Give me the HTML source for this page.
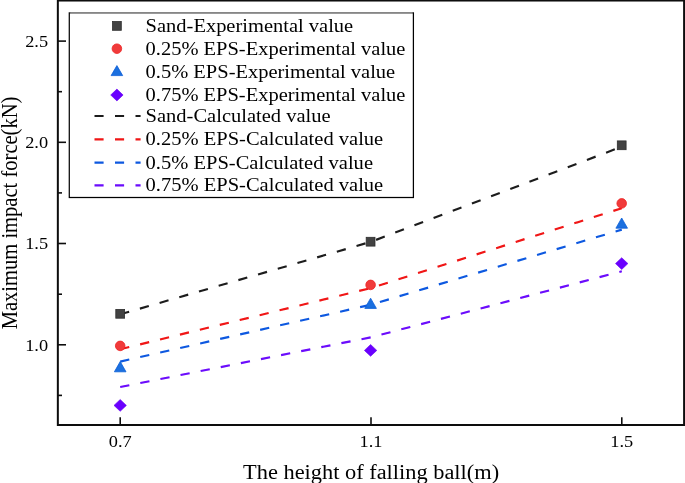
<!DOCTYPE html>
<html>
<head>
<meta charset="utf-8">
<title>Maximum impact force vs height of falling ball</title>
<style>
  html, body { margin: 0; padding: 0; background: #ffffff; }
  body { width: 685px; height: 483px; overflow: hidden; font-family: "Liberation Serif", serif; }
  svg { display: block; font-family: "Liberation Serif", serif; }
  .ax { stroke: #0c0c0c; stroke-width: 2; fill: none; }
  .tk { stroke: #101010; stroke-width: 1.6; }
  .lbl { fill: #000000; }
  .dash { fill: none; stroke-width: 2.15; stroke-dasharray: 9.3 11.2; }
</style>
</head>
<body>
<svg width="685" height="483" viewBox="0 0 685 483">
  <defs><filter id="soft" x="0" y="0" width="685" height="483" filterUnits="userSpaceOnUse"><feGaussianBlur stdDeviation="0.4"/></filter></defs>
  <rect x="0" y="0" width="685" height="483" fill="#ffffff"/>
  <g filter="url(#soft)">

  <!-- plot frame -->
  <rect class="ax" x="57.85" y="0.5" width="626.25" height="424.5"/>

  <!-- y ticks major -->
  <g class="tk">
    <line x1="57.85" x2="66.0" y1="41.1" y2="41.1"/>
    <line x1="57.85" x2="66.0" y1="142.3" y2="142.3"/>
    <line x1="57.85" x2="66.0" y1="243.5" y2="243.5"/>
    <line x1="57.85" x2="66.0" y1="344.8" y2="344.8"/>
    <!-- minor -->
    <line x1="57.85" x2="62.0" y1="91.7" y2="91.7"/>
    <line x1="57.85" x2="62.0" y1="192.9" y2="192.9"/>
    <line x1="57.85" x2="62.0" y1="294.2" y2="294.2"/>
    <line x1="57.85" x2="62.0" y1="395.4" y2="395.4"/>
    <!-- x ticks -->
    <line x1="120.2" x2="120.2" y1="425" y2="417.3"/>
    <line x1="371" x2="371" y1="425" y2="417.3"/>
    <line x1="621.8" x2="621.8" y1="425" y2="417.3"/>
  </g>

  <!-- y tick labels -->
  <g class="lbl" font-size="17.3" text-anchor="end">
    <text x="48.1" y="47.1" textLength="22.9" lengthAdjust="spacingAndGlyphs">2.5</text>
    <text x="48.1" y="148.2" textLength="22.9" lengthAdjust="spacingAndGlyphs">2.0</text>
    <text x="48.1" y="249.4" textLength="22.9" lengthAdjust="spacingAndGlyphs">1.5</text>
    <text x="48.1" y="350.7" textLength="22.9" lengthAdjust="spacingAndGlyphs">1.0</text>
  </g>
  <!-- x tick labels -->
  <g class="lbl" font-size="17.3" text-anchor="middle">
    <text x="120.2" y="447.2" textLength="22.9" lengthAdjust="spacingAndGlyphs">0.7</text>
    <text x="371" y="447.2" textLength="22.9" lengthAdjust="spacingAndGlyphs">1.1</text>
    <text x="621.8" y="447.2" textLength="22.9" lengthAdjust="spacingAndGlyphs">1.5</text>
  </g>

  <!-- axis titles -->
  <text class="lbl" x="371.1" y="478.8" font-size="21.3" text-anchor="middle" textLength="256" lengthAdjust="spacingAndGlyphs">The height of falling ball(m)</text>
  <text class="lbl" transform="translate(16.6,212.95) rotate(-90)" font-size="22.6" text-anchor="middle" textLength="232.7" lengthAdjust="spacingAndGlyphs">Maximum impact force(kN)</text>

  <!-- calculated dashed lines -->
  <polyline class="dash" stroke="#1e1e1e" points="120.2,314.3 371,241.8 621.8,146.7"/>
  <polyline class="dash" stroke="#f01414" points="120.2,349.2 371,288 621.8,208.2"/>
  <polyline class="dash" stroke="#0c58e0" points="120.2,361.6 371,304.7 621.8,229.6"/>
  <polyline class="dash" stroke="#6a08fc" points="120.2,387 371,337.3 621.8,271.3"/>

  <!-- experimental markers -->
  <g fill="#424242" stroke="#2e2e2e" stroke-width="0.8">
    <rect x="115.8" y="309.4" width="8.8" height="8.8"/>
    <rect x="366.2" y="237.3" width="8.8" height="8.8"/>
    <rect x="617.3" y="140.9" width="8.8" height="8.8"/>
  </g>
  <g fill="#f03a3a" stroke="#ee2424" stroke-width="0.8">
    <circle cx="120.2" cy="345.9" r="4.8"/>
    <circle cx="370.6" cy="284.9" r="4.8"/>
    <circle cx="621.7" cy="203.4" r="4.8"/>
  </g>
  <g fill="#1a6fdf" stroke="#0f60d8" stroke-width="0.8">
    <path d="M120.2,361.6 L126.0,371.8 L114.4,371.8 Z"/>
    <path d="M370.6,298.2 L376.4,308.4 L364.8,308.4 Z"/>
    <path d="M621.7,218.0 L627.5,228.2 L615.9,228.2 Z"/>
  </g>
  <g fill="#6a00ff" stroke="#6400f0" stroke-width="0.6">
    <path d="M120.2,399.5 L126.4,405.4 L120.2,411.3 L114.0,405.4 Z"/>
    <path d="M370.6,344.5 L376.8,350.4 L370.6,356.3 L364.4,350.4 Z"/>
    <path d="M621.7,257.7 L627.9,263.6 L621.7,269.5 L615.5,263.6 Z"/>
  </g>

  <!-- legend -->
  <rect x="69.3" y="12.9" width="344.1" height="184.6" fill="#ffffff" stroke="#060606" stroke-width="1.25"/>
  <line x1="70.2" x2="412.6" y1="12.9" y2="12.9" stroke="#ffffff" stroke-opacity="0.45" stroke-width="1.4"/>
  <rect x="112.5" y="21.5" width="8.8" height="8.8" fill="#424242" stroke="#2e2e2e" stroke-width="0.8"/>
  <circle cx="116.9" cy="48.7" r="4.8" fill="#f03a3a" stroke="#ee2424" stroke-width="0.8"/>
  <path d="M116.9,65.6 L122.7,75.6 L111.1,75.6 Z" fill="#1a6fdf" stroke="#0f60d8" stroke-width="0.8"/>
  <path d="M116.9,89.1 L123.1,95 L116.9,100.9 L110.7,95 Z" fill="#6a00ff" stroke="#6400f0" stroke-width="0.6"/>
  <g fill="none" stroke-width="2.15" stroke-dasharray="9.1 11.4">
    <line x1="94.5" x2="140.6" y1="116" y2="116" stroke="#1e1e1e"/>
    <line x1="94.5" x2="140.6" y1="139.3" y2="139.3" stroke="#f01414"/>
    <line x1="94.5" x2="140.6" y1="162.6" y2="162.6" stroke="#0c58e0"/>
    <line x1="94.5" x2="140.6" y1="185.4" y2="185.4" stroke="#6a08fc"/>
  </g>
  <g class="lbl" font-size="19.8" lengthAdjust="spacingAndGlyphs">
    <text x="145.6" y="32.4" textLength="207.6" lengthAdjust="spacingAndGlyphs">Sand-Experimental value</text>
    <text x="145.6" y="55.3" textLength="259.8" lengthAdjust="spacingAndGlyphs">0.25% EPS-Experimental value</text>
    <text x="145.6" y="78.4" textLength="249.6" lengthAdjust="spacingAndGlyphs">0.5% EPS-Experimental value</text>
    <text x="145.6" y="101.2" textLength="259.8" lengthAdjust="spacingAndGlyphs">0.75% EPS-Experimental value</text>
    <text x="145.6" y="122.3" textLength="185" lengthAdjust="spacingAndGlyphs">Sand-Calculated value</text>
    <text x="145.6" y="145.3" textLength="237.6" lengthAdjust="spacingAndGlyphs">0.25% EPS-Calculated value</text>
    <text x="145.6" y="168.5" textLength="227.4" lengthAdjust="spacingAndGlyphs">0.5% EPS-Calculated value</text>
    <text x="145.6" y="191.2" textLength="237.6" lengthAdjust="spacingAndGlyphs">0.75% EPS-Calculated value</text>
  </g>
  </g>
</svg>
</body>
</html>
